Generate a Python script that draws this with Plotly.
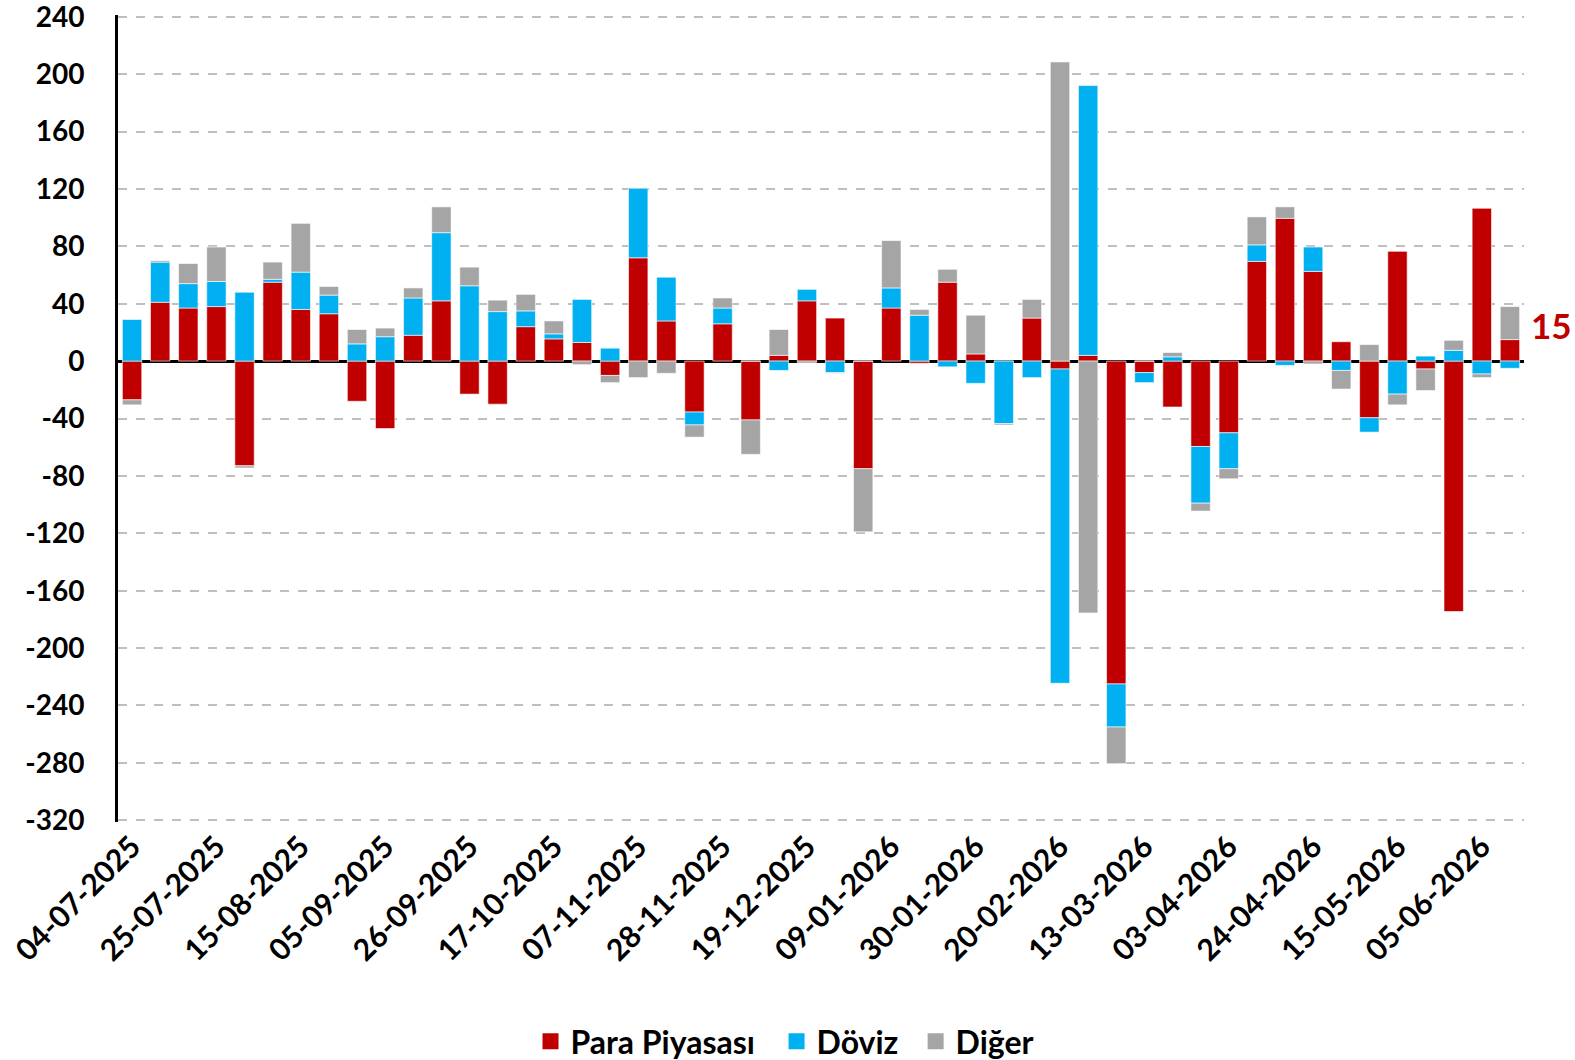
import plotly.graph_objects as go

dates = ["04-07-2025","11-07-2025","18-07-2025","25-07-2025","01-08-2025","08-08-2025","15-08-2025",
         "22-08-2025","29-08-2025","05-09-2025","12-09-2025","19-09-2025","26-09-2025","03-10-2025",
         "10-10-2025","17-10-2025","24-10-2025","31-10-2025","07-11-2025","14-11-2025","21-11-2025",
         "28-11-2025","05-12-2025","12-12-2025","19-12-2025","26-12-2025","02-01-2026","09-01-2026",
         "16-01-2026","23-01-2026","30-01-2026","06-02-2026","13-02-2026","20-02-2026","27-02-2026",
         "06-03-2026","13-03-2026","20-03-2026","27-03-2026","03-04-2026","10-04-2026","17-04-2026",
         "24-04-2026","01-05-2026","08-05-2026","15-05-2026","22-05-2026","29-05-2026","05-06-2026",
         "12-06-2026"]

para = [-27, 41, 37, 38, -73, 55, 36, 33, -28, -47, 18, 42, -23, -30, 24, 15.5, 13, -10, 72, 28,
        -35.5, 26, -41, 4, 42, 30, -75, 37, -1.5, 55, 5, 0, 30, -5.5, 4, -225, -8, -32, -59.5, -50,
        69.5, 99.5, 62.5, 13.5, -39.5, 76.5, -5.5, -174.5, 106.5, 15]

doviz = [29, 28, 17, 17.5, 48, 2, 26, 13, 12, 17, 26, 47.5, 52.5, 34.5, 11, 3.5, 30, 9, 48.5, 30.5,
         -9, 11, 0, -6.5, 8, -8, 0, 14, 32, -4, -15.5, -43.5, -11.5, -219, 188, -30, -7, 3, -39.5, -25,
         11.5, -3, 17, -6.5, -10, -23, 3.5, 7.5, -9, -5]

diger = [-3.5, 1, 14, 24, -1.5, 12, 34, 6, 10, 6, 7, 18, 13, 8, 11.5, 9, -2.5, -5, -11.5, -8.5,
         -8.5, 7, -24, 18, -1, -0.5, -44, 33, 4, 9, 27, -1, 13, 208.5, -175.5, -25.5, 0, 3, -5.5, -7,
         19.5, 8, -2, -13, 11.5, -7.5, -15, 7, -2.5, 23]

tick_labels = dates[::3]
y_ticks = list(range(-320, 241, 40))
y_ticktext = [str(v) for v in y_ticks]  # plain hyphen minus, as in the original

series = [("Para Piyasası", para, "#C00000"),
          ("Döviz", doviz, "#00B0F0"),
          ("Diğer", diger, "#A5A5A5")]
legend_ids = ["legend", "legend2", "legend3"]
legend_x = [0.2934, 0.4684, 0.5673]

FONT = "Lato, Roboto, 'Open Sans', sans-serif"

fig = go.Figure()
for name, vals, col in series:
    fig.add_trace(go.Bar(x=dates, y=vals, name=name, showlegend=False,
                         marker=dict(color=col, line=dict(color="white", width=0.6))))
# legend entries with larger square swatches, each in its own legend box
for (name, vals, col), lid in zip(series, legend_ids):
    fig.add_trace(go.Scatter(x=[None], y=[None], mode="markers", name=name, legend=lid,
                             marker=dict(symbol="square", size=20, color=col)))

fig.add_annotation(x=dates[-1], y=para[-1], text=f"{para[-1]:.0f}", showarrow=False,
                   xanchor="left", yanchor="middle", xshift=19, yshift=15,
                   font=dict(family=FONT, size=35, color="#C00000", weight=700))

legend_style = dict(orientation="h", xanchor="left", y=-0.272, yanchor="middle",
                    font=dict(family=FONT, size=32, weight=700), itemwidth=30,
                    bgcolor="rgba(0,0,0,0)")
fig.update_layout(
    width=1575, height=1060,
    barmode="relative", bargap=0.31,
    plot_bgcolor="white", paper_bgcolor="white",
    margin=dict(l=118, r=51, t=15, b=238, autoexpand=False),
    font=dict(family=FONT, color="black"),
    legend=dict(x=legend_x[0], **legend_style),
    legend2=dict(x=legend_x[1], **legend_style),
    legend3=dict(x=legend_x[2], **legend_style),
    showlegend=True,
)
fig.update_xaxes(type="category", range=[-0.5, len(dates) - 0.5], autorange=False,
                 tickmode="array", tickvals=tick_labels, ticktext=tick_labels,
                 tickangle=-45, tickfont=dict(family=FONT, size=30, weight=700),
                 showgrid=False, showline=False, ticks="", automargin=False)
fig.update_yaxes(range=[-321.2, 241.2], autorange=False, tickmode="array",
                 tickvals=y_ticks, ticktext=y_ticktext, ticklabelstandoff=25,
                 ticklabeloverflow="allow",
                 tickfont=dict(family=FONT, size=28, weight=700),
                 showgrid=True, gridcolor="#BFBFBF", griddash="dash", gridwidth=2,
                 zeroline=True, zerolinecolor="black", zerolinewidth=3,
                 showline=True, linecolor="black", linewidth=3, ticks="", automargin=False)

fig.write_html("out.html", config={"displayModeBar": False},
               post_script="document.body.style.margin='0';document.body.style.overflow='hidden';")
